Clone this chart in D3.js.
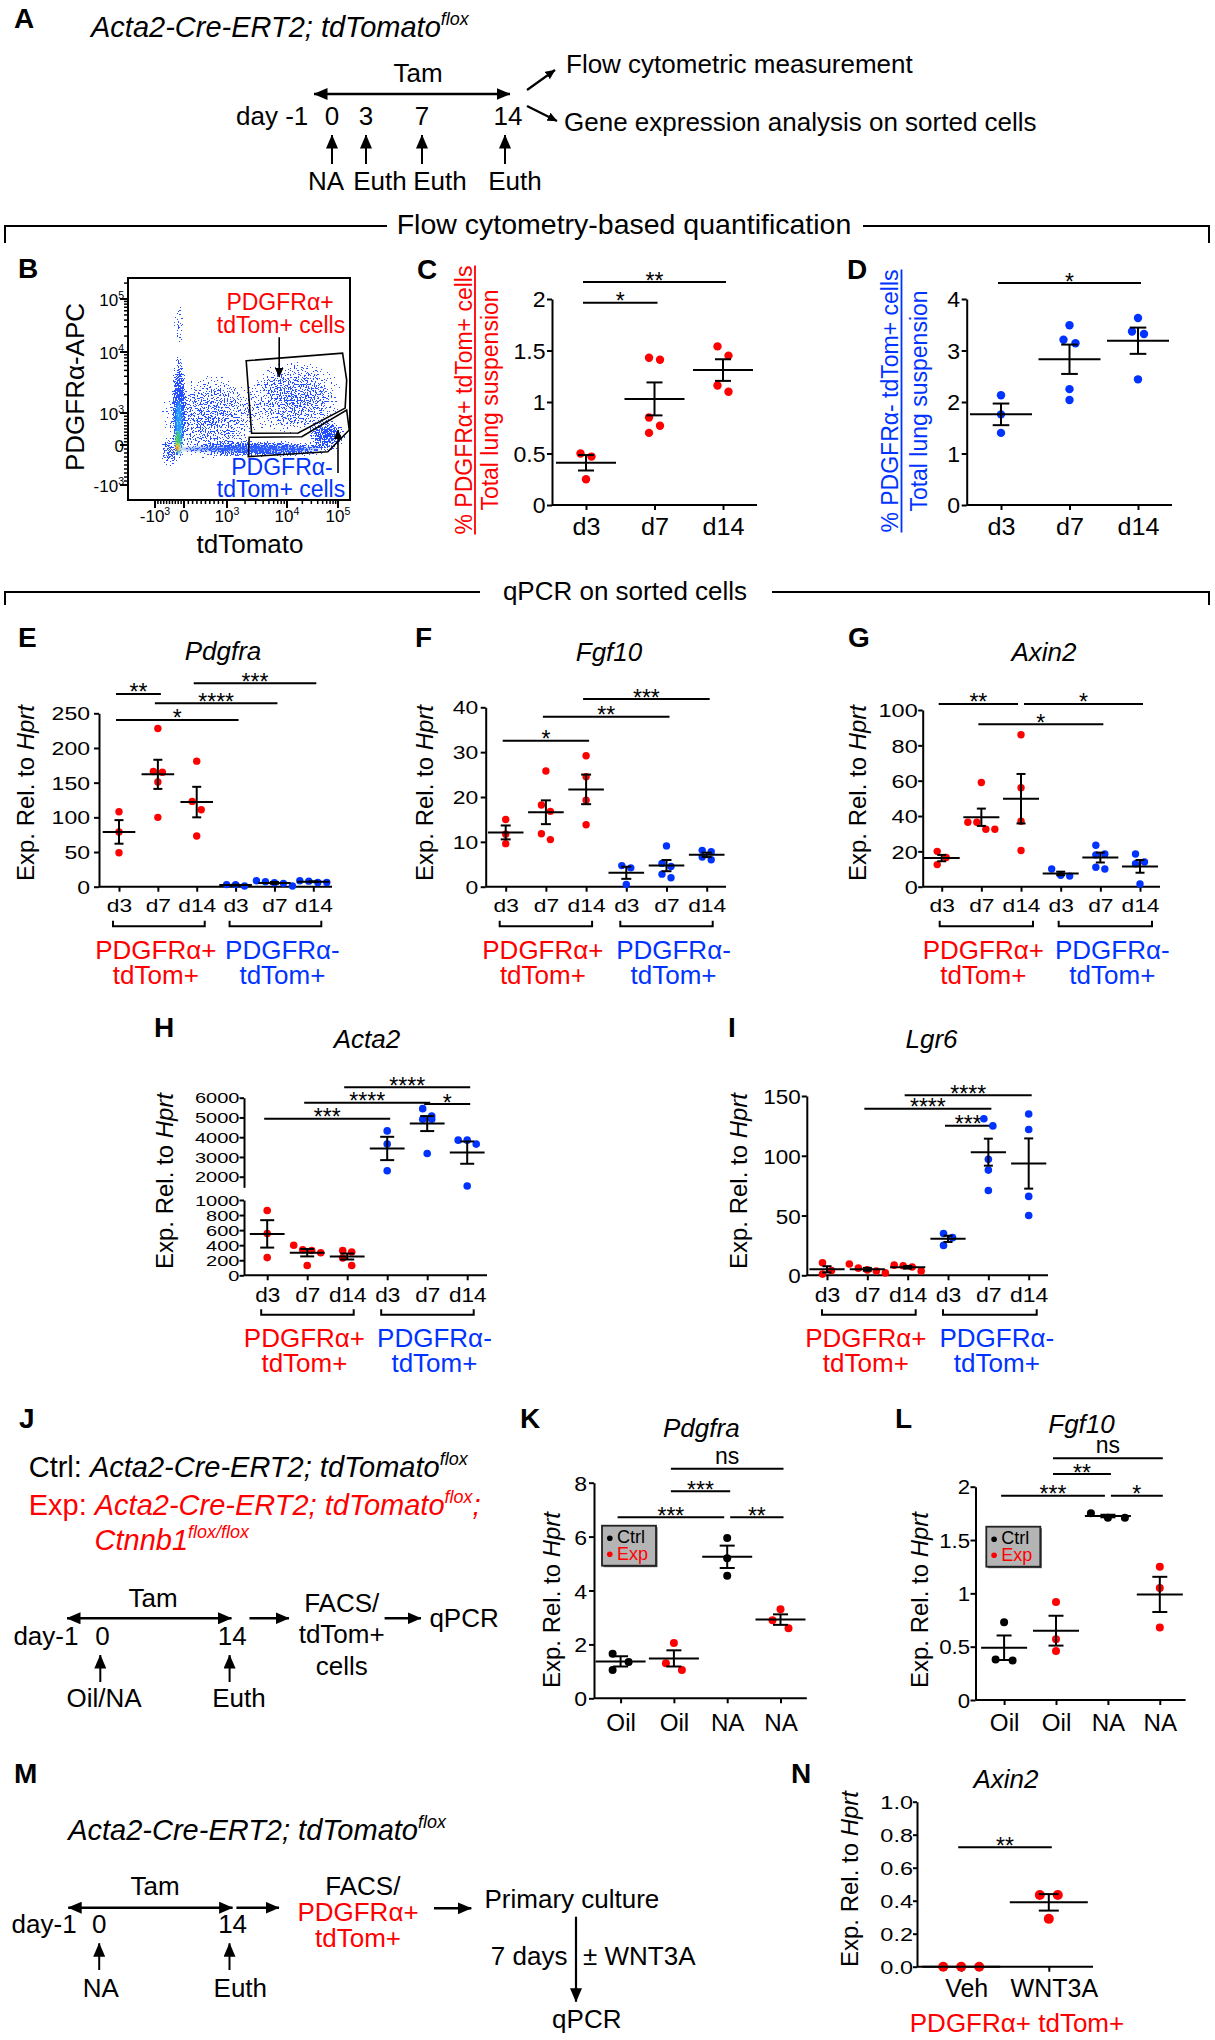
<!DOCTYPE html>
<html>
<head>
<meta charset="utf-8">
<script src="https://cdn.jsdelivr.net/npm/d3@7/dist/d3.min.js"></script>
<style>
html,body{margin:0;padding:0;background:#fff;}
svg{display:block;}
</style>
</head>
<body>
<svg id="fig" width="1215" height="2040" xmlns="http://www.w3.org/2000/svg"></svg>
<script>
// ======================= DATA =======================
const dayCats = ["d3", "d7", "d14"];
const sortedCats = ["d3", "d7", "d14", "d3", "d7", "d14"];
const groupNames = [["PDGFRα+", "tdTom+"], ["PDGFRα-", "tdTom+"]];
const treatCats = ["Oil", "Oil", "NA", "NA"];
const legendNames = ["Ctrl", "Exp"];
const cultureCats = ["Veh", "WNT3A"];

// B: flow cytometry (axis index units: -1=-10^3, 0=0, 1=10^3, 2=10^4, 3=10^5)
const flowTickIdx = [-1, 0, 1, 2, 3];
const flowTickLabels = [["-10", "3"], ["0", ""], ["10", "3"], ["10", "4"], ["10", "5"]];
const flowPopulations = [ // event-density regions [x0,x1,y0,y1,weight]
  [-0.45, 0.07, -0.5, 2.13, 1.0],
  [-0.14, 3.14, -0.33, 0.16, 1.0],
  [2.35, 3.2, -0.18, 0.84, 0.9],
  [1.22, 3.24, 0.16, 1.95, 0.66],
  [-1.1, 1.7, -0.55, 1.75, 0.62],
  [-0.41, 0.05, 2.04, 2.98, 0.4],
  [-0.9, -0.1, -0.6, 0.3, 0.75]
];
const flowCores = [ // high-density cores [x0,x1,y0,y1,colour,opacity]
  [-0.14, 2.65, -0.175, -0.025, "#3a6cff", 0.55],
  [-0.29, -0.06, -0.25, 1.2, "#28b8ff", 0.75],
  [-0.3, -0.12, -0.2, 0.45, "#3ccf4a", 0.85],
  [-0.28, -0.14, -0.15, 0.05, "#f0e400", 0.95],
  [-0.29, -0.2, -0.125, -0.03, "#ff2a00", 1]
];
const gatePos = [[1.32, 1.857], [3.09, 1.98], [3.17, 1.54], [3.14, 1.08], [2.22, 0.375], [1.41, 0.366]];
const gateNeg = [[1.37, 0.24], [2.29, 0.26], [3.17, 1.05], [3.22, 0.47], [2.8, -0.17], [1.355, -0.29]];

// C
const cTicks = [0, 0.5, 1, 1.5, 2];
const cValues = [[0.50, 0.47, 0.25], [1.41, 1.43, 0.85, 0.77, 0.70], [1.54, 1.45, 1.16, 1.10]];
const cMean = [0.41, 1.03, 1.31];
const cSem = [0.075, 0.16, 0.105];
const cSig = [[0, 1, 1.964, "*"], [0, 2, 2.165, "**"]];
// D
const dTicks = [0, 1, 2, 3, 4];
const dValues = [[2.13, 1.76, 1.40], [3.49, 3.21, 3.14, 2.25, 2.04], [3.63, 3.37, 3.32, 2.44]];
const dMean = [1.76, 2.83, 3.19];
const dSem = [0.21, 0.285, 0.255];
const dSig = [[0, 2, 4.31, "*"]];
// E Pdgfra
const eTicks = [0, 50, 100, 150, 200, 250];
const eValues = [[108, 79, 49], [228, 166, 165, 151, 100], [181, 123, 111, 73], [3, 1, 3], [8.6, 5.8, 1, 4.8, 7.2], [8, 6, 6, 8.6]];
const eMean = [79, 162, 122, 2.3, 5.5, 7.2];
const eSem = [17, 21, 22, 0.6, 1.3, 0.6];
const eSig = [[0, 1, 278, "**"], [0, 3, 240.5, "*"], [1, 4, 264.5, "****"], [2, 5, 293.4, "***"]];
// F Fgf10
const fTicks = [0, 10, 20, 30, 40];
const fValues = [[15, 11.7, 9.6], [25.8, 18.2, 16.8, 11.8, 10.5], [29.2, 24.5, 19.3, 13.8], [4.7, 4.2, 0.5], [9.1, 5.2, 4.5, 2.8, 2], [8.1, 7.8, 6.6, 6.0]];
const fMean = [12.1, 16.6, 21.7, 3.1, 4.7, 7.1];
const fSem = [1.55, 2.65, 3.3, 1.35, 1.25, 0.5];
const fSig = [[0, 2, 32.55, "*"], [1, 4, 37.9, "**"], [2, 5, 41.85, "***"]];
// G Axin2
const gTicks = [0, 20, 40, 60, 80, 100];
const gValues = [[20, 16.5, 12.5], [59, 36.5, 36.5, 32.5, 32.5], [86, 56, 37, 20.5], [10, 6, 6.5], [23.5, 18.5, 18, 11, 10], [18.5, 14, 13, 1.5]];
const gMean = [16.2, 39.3, 49.8, 7.5, 16.5, 11.5];
const gSem = [1.8, 4.9, 14, 1, 2.8, 3.6];
const gSig = [[0, 2, 103.4, "**"], [2, 5, 103.4, "*"], [1, 4, 91.9, "*"]];
// H Acta2 (broken axis)
const hTicksLow = [0, 200, 400, 600, 800, 1000];
const hTicksUp = [2000, 3000, 4000, 5000, 6000];
const hValues = [[860, 555, 235], [400, 340, 330, 300, 130], [330, 310, 230, 130], [4320, 3650, 2300], [5445, 5076, 4908, 4908, 3176], [3850, 3850, 3650, 1530]];
const hMean = [550, 300, 250, 3430, 4690, 3220];
const hSem = [182, 49, 40, 590, 380, 565];
const hSig = [[0, 3, 4937, "***"], [1, 4, 5747, "****"], [2, 5, 6527, "****"], [4, 5, 5681, "*"]];
// I Lgr6
const iTicks = [0, 50, 100, 150];
const iValues = [[10.5, 4, 1], [9.5, 6, 4.5, 3.5, 2], [8.5, 8, 7, 3.5], [35, 31.5, 25], [131, 125, 97, 88, 71], [135, 122, 66, 50]];
const iMean = [5, 5, 6.7, 30.5, 103, 93.5];
const iSem = [2.6, 1.2, 1.1, 2.6, 11.3, 21];
const iSig = [[2, 5, 150.6, "****"], [1, 4, 139.4, "****"], [3, 4, 125.2, "***"]];
// K Pdgfra (Ctrl / Exp)
const kTicks = [0, 2, 4, 6, 8];
const kValues = [[1.65, 1.35, 1.05], [2.05, 1.3, 1.05], [5.95, 5.2, 4.55], [3.3, 2.9, 2.6]];
const kMean = [1.37, 1.48, 5.25, 2.92];
const kSem = [0.19, 0.3, 0.415, 0.195];
const kSig = [[1, 3, 8.52, "ns"], [1, 2, 7.68, "***"], [0, 2, 6.72, "***"], [2, 3, 6.72, "**"]];
// L Fgf10 (Ctrl / Exp)
const lTicks = [0, 0.5, 1, 1.5, 2];
const lValues = [[0.73, 0.37, 0.38], [0.92, 0.57, 0.46], [1.75, 1.71, 1.71], [1.25, 1.05, 0.68]];
const lMean = [0.49, 0.65, 1.725, 0.99];
const lSem = [0.115, 0.14, 0.012, 0.165];
const lSig = [[1, 3, 2.266, "ns"], [1, 2, 2.119, "**"], [0, 2, 1.916, "***"], [2, 3, 1.916, "*"]];
// N Axin2 culture
const nTicks = [0, 0.2, 0.4, 0.6, 0.8, 1.0];
const nValues = [[0, 0, 0], [0.435, 0.435, 0.29]];
const nMean = [0, 0.39];
const nSem = [0, 0.05];
const nSig = [[0, 1, 0.724, "**"]];

// ======================= STYLE / HELPERS =======================
const svg = d3.select("#fig");
const FONT = "'Liberation Sans', Arial, Helvetica, sans-serif";
const RED = "#ff0000", BLUE = "#0033ff", BLK = "#000000";
const defs = svg.append("defs");

function T(g, x, y, segs, o = {}) {
  const size = o.size || 23;
  const t = g.append("text").attr("x", x).attr("y", y)
    .attr("font-family", FONT).attr("font-size", size)
    .attr("fill", o.fill || "#000").attr("text-anchor", o.anchor || "start");
  if (o.bold) t.attr("font-weight", "bold");
  if (o.italic) t.attr("font-style", "italic");
  let tr = "";
  if (o.rot) tr += `rotate(${o.rot},${x},${y}) `;
  if (o.sx) tr += `translate(${x},${y}) scale(${o.sx},1) translate(${-x},${-y})`;
  if (tr) t.attr("transform", tr);
  if (typeof segs === "string") segs = [{ t: segs }];
  let shift = 0;
  segs.forEach(s => {
    const ts = t.append("tspan").text(s.t);
    if (s.i) ts.attr("font-style", "italic");
    if (s.fill) ts.attr("fill", s.fill);
    const want = s.sup ? -size * 0.42 : 0;
    if (want !== shift) { ts.attr("dy", want - shift); shift = want; }
    if (s.sup) ts.attr("font-size", size * 0.62);
  });
  return t;
}
function L(g, x1, y1, x2, y2, o = {}) {
  return g.append("line").attr("x1", x1).attr("y1", y1).attr("x2", x2).attr("y2", y2)
    .attr("stroke", o.c || "#000").attr("stroke-width", o.w || 2)
    .attr("marker-end", o.end ? `url(#${o.end})` : null)
    .attr("marker-start", o.start ? `url(#${o.start})` : null);
}
function marker(id, len, wid) {
  defs.append("marker").attr("id", id).attr("viewBox", `0 0 ${len} ${wid}`)
    .attr("refX", len - 0.5).attr("refY", wid / 2).attr("markerWidth", len).attr("markerHeight", wid)
    .attr("markerUnits", "userSpaceOnUse").attr("orient", "auto-start-reverse")
    .append("path").attr("d", `M0,0L${len},${wid / 2}L0,${wid}Z`).attr("fill", "#000");
}
marker("ah", 14, 12);
marker("as", 10, 9);

function styleAxis(ga, size, sx) {
  ga.attr("font-family", null).attr("font-size", null).attr("color", "#000");
  ga.selectAll("path,line").attr("stroke", "#000").attr("stroke-width", 2);
  ga.selectAll("text").attr("font-family", FONT).attr("font-size", size).attr("fill", "#000");
  if (sx) ga.selectAll("text").each(function () {
    const t = d3.select(this);
    const x = +t.attr("x") || 0, y = +t.attr("y") || 0;
    t.attr("transform", `translate(${x},${y}) scale(${sx},1) translate(${-x},${-y})`);
  });
}
function dodge(ys, thr, s) {
  const idx = d3.range(ys.length).sort((a, b) => ys[a] - ys[b]);
  const off = new Array(ys.length).fill(0);
  let i = 0;
  while (i < idx.length) {
    let j = i;
    while (j + 1 < idx.length && ys[idx[j + 1]] - ys[idx[j]] < thr) j++;
    const cl = idx.slice(i, j + 1), k = cl.length;
    if (k > 1) {
      const span = ys[cl[k - 1]] - ys[cl[0]];
      if (span < thr) cl.forEach((c, m) => off[c] = (m - (k - 1) / 2) * s);
      else cl.forEach((c, m) => off[c] = (m % 2 ? 1 : -1) * s / 2);
    }
    i = j + 1;
  }
  return off;
}

function dotPanel(P) {
  const g = svg.append("g");
  const n = P.values.length;
  const x = d3.scalePoint().domain(d3.range(n)).range(P.catRange);
  const yf = P.y;
  P.yAxes.forEach(ax => {
    const a = d3.axisLeft(ax.scale).tickValues(ax.ticks).tickFormat(ax.fmt || (d => d))
      .tickSize(P.tick).tickPadding(P.pad).tickSizeOuter(0);
    const ga = g.append("g").attr("transform", `translate(${P.axisX},0)`).call(a);
    ga.selectAll(".tick text").attr("dy", "0.36em");
    styleAxis(ga, P.tickFont, P.tickSx);
  });
  L(g, P.axisX, P.yBottom, P.xEnd, P.yBottom);
  const xa = d3.axisBottom(x).tickSize(5).tickFormat(i => P.cats[i]);
  const gx = g.append("g").attr("transform", `translate(${P.catDx || 0},${P.yBottom})`).call(xa);
  gx.select(".domain").remove();
  gx.selectAll(".tick line").attr("transform", `translate(${-(P.catDx || 0)},0)`);
  gx.selectAll(".tick text").attr("y", P.catBase).attr("dy", null);
  styleAxis(gx, P.catFont, P.catSx);

  // significance bars
  P.sig.forEach((s, k) => {
    const [i, j, lev, lab] = s;
    let x1 = x(i) - 3, x2 = x(j) + 3;
    if (P.sig.some((o, q) => q !== k && o[2] === lev && o[1] === i)) x1 = x(i) + 3;
    if (P.sig.some((o, q) => q !== k && o[2] === lev && o[0] === j)) x2 = x(j) - 3;
    const yy = yf(lev);
    L(g, x1, yy, x2, yy);
    T(g, (x1 + x2) / 2, lab === "ns" ? yy - 5 : yy + 6.5, lab, { size: 23, anchor: "middle" });
  });
  // dots
  P.values.forEach((vals, i) => {
    const ys = vals.map(v => yf(v));
    const off = dodge(ys, P.r * 2 + 2, P.step);
    vals.forEach((v, k) => g.append("circle").attr("cx", x(i) + off[k]).attr("cy", ys[k])
      .attr("r", P.r).attr("fill", P.colors[i]));
  });
  // mean +/- SEM
  P.means.forEach((m, i) => {
    const cx = x(i), s = P.sems[i];
    L(g, cx - P.meanHalf, yf(m), cx + P.meanHalf, yf(m));
    if (s > 0) {
      L(g, cx, yf(m - s), cx, yf(m + s));
      L(g, cx - P.capHalf, yf(m + s), cx + P.capHalf, yf(m + s));
      L(g, cx - P.capHalf, yf(m - s), cx + P.capHalf, yf(m - s));
    }
  });
  if (P.title) T(g, P.title[0], P.title[1], P.titleText, { size: 26, anchor: "middle", italic: true });
  if (P.ytitle) T(g, P.ytitle[0], P.ytitle[1], [{ t: "Exp. Rel. to " }, { t: "Hprt", i: true }],
    { size: 24, anchor: "middle", rot: -90 });
  if (P.groups) {
    const bt = P.yBottom + 34, bb = P.yBottom + 39.5;
    [[0, 2, RED, -3], [3, 5, BLUE, 7]].forEach(([a, b, col, dx], gi) => {
      const x1 = x(a) + P.br[0], x2 = x(b) + P.br[1];
      g.append("path").attr("d", `M${x1},${bt}V${bb}H${x2}V${bt}`).attr("fill", "none")
        .attr("stroke", "#000").attr("stroke-width", 2);
      const cx = (x1 + x2) / 2 + dx;
      T(g, cx, P.yBottom + 72, groupNames[gi][0], { size: 26, anchor: "middle", fill: col });
      T(g, cx, P.yBottom + 97, groupNames[gi][1], { size: 26, anchor: "middle", fill: col });
    });
  }
  return { g, x };
}

function header(yLine, text, size, tx0, tx1, dropTo) {
  const g = svg.append("g");
  L(g, 5, yLine, tx0 - 8, yLine);
  L(g, tx1 + 10, yLine, 1209, yLine);
  L(g, 5, yLine - 1, 5, dropTo);
  L(g, 1209, yLine - 1, 1209, dropTo);
  T(g, (tx0 + tx1) / 2, yLine + 8, text, { size, anchor: "middle" });
}

// ======================= PANEL LETTERS =======================
[["A", 14, 28], ["B", 18, 278], ["C", 417, 279], ["D", 847, 279], ["E", 18, 647], ["F", 415, 647],
 ["G", 848, 647], ["H", 154, 1037], ["I", 728, 1037], ["J", 19, 1428], ["K", 520, 1428],
 ["L", 895, 1428], ["M", 14, 1783], ["N", 791, 1783]]
  .forEach(([l, x, y]) => T(svg, x, y, l, { size: 28, bold: true }));

// ======================= PANEL A =======================
{
  const g = svg.append("g");
  T(g, 91, 37, [{ t: "Acta2-Cre-ERT2; tdTomato" }, { t: "flox", sup: true }], { size: 29, italic: true });
  T(g, 418, 82, "Tam", { size: 26, anchor: "middle" });
  L(g, 314, 94, 510, 94, { start: "ah", end: "ah", w: 2.5 });
  T(g, 236, 125, "day -1", { size: 26 });
  [["0", 332], ["3", 366], ["7", 422], ["14", 508]].forEach(([t, x]) => T(g, x, 125, t, { size: 26, anchor: "middle" }));
  [332, 366, 422, 505].forEach(x => L(g, x, 164, x, 135, { end: "ah" }));
  [["NA", 326], ["Euth", 380], ["Euth", 440], ["Euth", 515]].forEach(([t, x]) => T(g, x, 190, t, { size: 26, anchor: "middle" }));
  L(g, 527, 90, 555, 70, { end: "as", w: 2.2 });
  L(g, 527, 106, 557, 121, { end: "as", w: 2.2 });
  T(g, 566, 73, "Flow cytometric measurement", { size: 26 });
  T(g, 564, 131, "Gene expression analysis on sorted cells", { size: 26 });
}
header(226, "Flow cytometry-based quantification", 28.5, 395, 853, 243);
header(592, "qPCR on sorted cells", 26, 488, 762, 605);

// ======================= PANEL B (flow) =======================
{
  const g = svg.append("g");
  const box = { l: 128, t: 278, r: 350, b: 500 };
  const fx = d3.scaleLinear().domain(flowTickIdx).range([155, 184, 227, 287, 338]);
  const fy = d3.scaleLinear().domain(flowTickIdx).range([485, 445, 413, 352, 299]);
  defs.append("clipPath").attr("id", "flowclip").append("rect")
    .attr("x", box.l).attr("y", box.t).attr("width", box.r - box.l).attr("height", box.b - box.t);
  const rg = defs.append("radialGradient").attr("id", "popgrad");
  rg.append("stop").attr("offset", 0).attr("stop-color", "#000").attr("stop-opacity", 1);
  rg.append("stop").attr("offset", 0.55).attr("stop-color", "#000").attr("stop-opacity", 0.75);
  rg.append("stop").attr("offset", 1).attr("stop-color", "#000").attr("stop-opacity", 0);
  const f = defs.append("filter").attr("id", "spk").attr("filterUnits", "userSpaceOnUse")
    .attr("x", box.l).attr("y", box.t).attr("width", box.r - box.l).attr("height", box.b - box.t)
    .attr("color-interpolation-filters", "sRGB");
  f.append("feTurbulence").attr("type", "fractalNoise").attr("baseFrequency", 0.7)
    .attr("numOctaves", 1).attr("seed", 5).attr("result", "n");
  f.append("feColorMatrix").attr("in", "n").attr("type", "matrix")
    .attr("values", "0 0 0 0 0  0 0 0 0 0  0 0 0 0 0  2.4 0 0 0 -0.7").attr("result", "na");
  f.append("feComposite").attr("in", "SourceAlpha").attr("in2", "na").attr("operator", "arithmetic")
    .attr("k1", 0).attr("k2", 1).attr("k3", 1).attr("k4", -0.66).attr("result", "s");
  f.append("feComponentTransfer").attr("in", "s").attr("result", "m")
    .append("feFuncA").attr("type", "discrete").attr("tableValues", "0 1");
  f.append("feFlood").attr("flood-color", "#2550ff").attr("result", "fl");
  f.append("feComposite").attr("in", "fl").attr("in2", "m").attr("operator", "in");
  const blur = defs.append("filter").attr("id", "soft").attr("x", "-50%").attr("y", "-50%")
    .attr("width", "200%").attr("height", "200%");
  blur.append("feGaussianBlur").attr("stdDeviation", 1.3);

  const dens = g.append("g").attr("clip-path", "url(#flowclip)");
  const sp = dens.append("g").attr("filter", "url(#spk)");
  flowPopulations.forEach(([x0, x1, y0, y1, w]) => {
    sp.append("ellipse").attr("cx", (fx(x0) + fx(x1)) / 2).attr("cy", (fy(y0) + fy(y1)) / 2)
      .attr("rx", Math.abs(fx(x1) - fx(x0)) / 2).attr("ry", Math.abs(fy(y1) - fy(y0)) / 2)
      .attr("fill", "url(#popgrad)").attr("fill-opacity", w);
  });
  const cg = dens.append("g").attr("filter", "url(#soft)");
  flowCores.forEach(([x0, x1, y0, y1, col, op]) => {
    cg.append("ellipse").attr("cx", (fx(x0) + fx(x1)) / 2).attr("cy", (fy(y0) + fy(y1)) / 2)
      .attr("rx", Math.abs(fx(x1) - fx(x0)) / 2).attr("ry", Math.abs(fy(y1) - fy(y0)) / 2)
      .attr("fill", col).attr("fill-opacity", op);
  });
  g.append("rect").attr("x", box.l).attr("y", box.t).attr("width", box.r - box.l).attr("height", box.b - box.t)
    .attr("fill", "none").attr("stroke", "#000").attr("stroke-width", 2);
  const minor = [];
  for (let k = -9; k <= 9; k++) if (k % 10) minor.push(k / 10);
  [1, 2].forEach(d => [2, 3, 4, 5, 6, 7, 8, 9].forEach(m => minor.push(d + Math.log10(m))));
  flowTickIdx.forEach(v => { L(g, fx(v), box.b, fx(v), box.b + 8); L(g, box.l, fy(v), box.l - 8, fy(v)); });
  minor.forEach(v => {
    if (fx(v) > box.l && fx(v) < box.r) L(g, fx(v), box.b, fx(v), box.b + 4, { w: 1.5 });
    L(g, box.l, fy(v), box.l - 4, fy(v), { w: 1.5 });
  });
  L(g, box.l, fy(3.3), box.l - 4, fy(3.3), { w: 1.5 });
  flowTickIdx.forEach((v, i) => {
    const [b, e] = flowTickLabels[i];
    T(g, fx(v), 522, e ? [{ t: b }, { t: e, sup: true }] : b, { size: 17, anchor: "middle" });
    T(g, 124, fy(v) + 7, e ? [{ t: b }, { t: e, sup: true }] : b, { size: 17, anchor: "end" });
  });
  [gatePos, gateNeg].forEach(gt => g.append("polygon")
    .attr("points", gt.map(([a, b]) => `${fx(a)},${fy(b)}`).join(" "))
    .attr("fill", "none").attr("stroke", "#000").attr("stroke-width", 1.6));
  L(g, fx(1.87), fy(2.28), fx(1.87), fy(1.59), { end: "as", w: 1.6 });
  L(g, fx(3.0), fy(-0.7), fx(3.0), fy(0.47), { end: "as", w: 1.6 });
  T(g, 280, 310, "PDGFRα+", { size: 23, anchor: "middle", fill: RED });
  T(g, 281, 333, "tdTom+ cells", { size: 23, anchor: "middle", fill: RED });
  T(g, 282, 475, "PDGFRα-", { size: 23, anchor: "middle", fill: BLUE });
  T(g, 281, 497, "tdTom+ cells", { size: 23, anchor: "middle", fill: BLUE });
  T(g, 250, 553, "tdTomato", { size: 26, anchor: "middle" });
  T(g, 83.5, 387, "PDGFRα-APC", { size: 26, anchor: "middle", rot: -90 });
}

// ======================= PANELS C & D =======================
function twoLineTitle(g, x1, x2, cy, l1, col) {
  const t = T(g, x1, cy, l1, { size: 23, anchor: "middle", rot: -90, fill: col });
  const len = t.node().getComputedTextLength();
  L(g, x1 + 3.5, cy - len / 2, x1 + 3.5, cy + len / 2, { c: col, w: 1.8 });
  T(g, x2, cy, "Total lung suspension", { size: 23, anchor: "middle", rot: -90, fill: col });
}
{
  const y = d3.scaleLinear().domain([0, 2]).range([505, 299]);
  const p = dotPanel({
    values: cValues, means: cMean, sems: cSem, sig: cSig, cats: dayCats, colors: [RED, RED, RED],
    y, yAxes: [{ scale: y, ticks: cTicks }], axisX: 552, xEnd: 757, yBottom: 505, catRange: [586, 723],
    tick: 5, pad: 1.5, tickFont: 22, tickSx: 1.05, catFont: 24, catSx: 1.05, catBase: 30,
    r: 4.2, step: 11, meanHalf: 30, capHalf: 8
  });
  twoLineTitle(p.g, 471.5, 498, 400, "% PDGFRα+ tdTom+ cells", RED);
}
{
  const y = d3.scaleLinear().domain([0, 4]).range([505, 299]);
  const p = dotPanel({
    values: dValues, means: dMean, sems: dSem, sig: dSig, cats: dayCats, colors: [BLUE, BLUE, BLUE],
    y, yAxes: [{ scale: y, ticks: dTicks }], axisX: 966.7, xEnd: 1172, yBottom: 505, catRange: [1001, 1138],
    tick: 5, pad: 1.5, tickFont: 22, tickSx: 1.05, catFont: 24, catSx: 1.05, catBase: 30,
    r: 4.2, step: 12, meanHalf: 31, capHalf: 8.3
  });
  twoLineTitle(p.g, 898, 926.5, 401, "% PDGFRα- tdTom+ cells", BLUE);
}

// ======================= PANELS E, F, G =======================
const sixColors = [RED, RED, RED, BLUE, BLUE, BLUE];
{
  const y = d3.scaleLinear().domain([0, 250]).range([886.7, 713.3]);
  dotPanel({
    values: eValues, means: eMean, sems: eSem, sig: eSig, cats: sortedCats, colors: sixColors,
    y, yAxes: [{ scale: y, ticks: eTicks }], axisX: 99, xEnd: 332, yBottom: 886.7, catRange: [119, 313.3],
    tick: 5, pad: 4, tickFont: 18, tickSx: 1.28, catFont: 19, catSx: 1.2, catBase: 25,
    r: 3.7, step: 9, meanHalf: 16.3, capHalf: 4.5, groups: true, br: [-6, 8],
    title: [223, 660], titleText: "Pdgfra", ytitle: [33.5, 793]
  });
}
{
  const y = d3.scaleLinear().domain([0, 40]).range([886.7, 707.3]);
  dotPanel({
    values: fValues, means: fMean, sems: fSem, sig: fSig, cats: sortedCats, colors: sixColors,
    y, yAxes: [{ scale: y, ticks: fTicks }], axisX: 485.7, xEnd: 726, yBottom: 886.7, catRange: [505.7, 706.7],
    tick: 5, pad: 2.4, tickFont: 18.5, tickSx: 1.24, catFont: 19, catSx: 1.2, catBase: 25,
    r: 3.7, step: 9, meanHalf: 17.8, capHalf: 5, groups: true, br: [-6, 6],
    title: [609, 660.7], titleText: "Fgf10", ytitle: [433, 793]
  });
}
{
  const y = d3.scaleLinear().domain([0, 100]).range([886.7, 710]);
  dotPanel({
    values: gValues, means: gMean, sems: gSem, sig: gSig, cats: sortedCats, colors: sixColors,
    y, yAxes: [{ scale: y, ticks: gTicks }], axisX: 922.7, xEnd: 1160, yBottom: 886.7, catRange: [941.7, 1140],
    tick: 4.5, pad: 0.5, tickFont: 18.5, tickSx: 1.27, catFont: 19, catSx: 1.2, catBase: 25,
    r: 3.7, step: 9, meanHalf: 18, capHalf: 4.5, groups: true, br: [-2, 12],
    title: [1044, 660.7], titleText: "Axin2", ytitle: [866, 793]
  });
}

// ======================= PANELS H, I =======================
{
  const hLow = d3.scaleLinear().domain([0, 1000]).range([1275.3, 1200]);
  const hUp = d3.scaleLinear().domain([2000, 6000]).range([1176.7, 1097.7]);
  const hUpAxis = hUp.copy().domain([1460, 6000]).range([hUp(1460), hUp(6000)]);
  const y = v => v <= 1000 ? hLow(v) : hUp(v);
  dotPanel({
    values: hValues, means: hMean, sems: hSem, sig: hSig, cats: sortedCats, colors: sixColors,
    y, yAxes: [{ scale: hLow, ticks: hTicksLow }, { scale: hUpAxis, ticks: hTicksUp }],
    axisX: 244, xEnd: 487, yBottom: 1275.3, catRange: [267.2, 467.2],
    tick: 4.5, pad: 0, tickFont: 14.5, tickSx: 1.38, catFont: 20.5, catSx: 1.1, catBase: 26.4,
    r: 3.8, step: 9, meanHalf: 17.4, capHalf: 7, groups: true, br: [-6, 6.5],
    title: [367, 1048], titleText: "Acta2", ytitle: [173, 1181]
  });
}
{
  const y = d3.scaleLinear().domain([0, 150]).range([1275.3, 1096]);
  dotPanel({
    values: iValues, means: iMean, sems: iSem, sig: iSig, cats: sortedCats, colors: sixColors,
    y, yAxes: [{ scale: y, ticks: iTicks }], axisX: 806.8, xEnd: 1048, yBottom: 1275.3, catRange: [827, 1028.7],
    tick: 5, pad: 1, tickFont: 21, tickSx: 1.07, catFont: 20, catSx: 1.15, catBase: 26.4,
    r: 3.8, step: 9, meanHalf: 17.6, capHalf: 4.5, groups: true, br: [-5, 8],
    title: [931.5, 1048], titleText: "Lgr6", ytitle: [747, 1181]
  });
}

// ======================= PANEL J =======================
{
  const g = svg.append("g");
  T(g, 28.7, 1476.7, [{ t: "Ctrl: " }, { t: "Acta2-Cre-ERT2; tdTomato", i: true }, { t: "flox", sup: true, i: true }], { size: 29 });
  T(g, 28.7, 1515, [{ t: "Exp: " }, { t: "Acta2-Cre-ERT2; tdTomato", i: true }, { t: "flox", sup: true, i: true }, { t: ";", i: true }], { size: 29, fill: RED });
  T(g, 94.5, 1550, [{ t: "Ctnnb1" }, { t: "flox/flox", sup: true }], { size: 29, fill: RED, italic: true });
  T(g, 153, 1606.7, "Tam", { size: 26, anchor: "middle" });
  L(g, 67, 1618.3, 231.5, 1618.3, { start: "ah", end: "ah", w: 2.5 });
  L(g, 249.5, 1618.3, 289, 1618.3, { end: "ah", w: 2.5 });
  T(g, 341.7, 1611.7, "FACS/", { size: 26, anchor: "middle" });
  T(g, 341.7, 1643.3, "tdTom+", { size: 26, anchor: "middle" });
  T(g, 341.7, 1675, "cells", { size: 26, anchor: "middle" });
  L(g, 384.6, 1618.3, 421, 1618.3, { end: "ah", w: 2.5 });
  T(g, 429.4, 1627, "qPCR", { size: 26 });
  T(g, 13.4, 1645, "day-1", { size: 26 });
  T(g, 102.6, 1645, "0", { size: 26, anchor: "middle" });
  T(g, 232.3, 1645, "14", { size: 26, anchor: "middle" });
  [100.3, 229.6].forEach(x => L(g, x, 1682, x, 1655, { end: "ah" }));
  T(g, 104, 1706.7, "Oil/NA", { size: 26, anchor: "middle" });
  T(g, 239, 1706.7, "Euth", { size: 26, anchor: "middle" });
}

// ======================= PANELS K, L =======================
function legend(g, x0, y0) {
  g.append("rect").attr("x", x0 + 1.5).attr("y", y0 + 1.5).attr("width", 54).attr("height", 40).attr("fill", "#555");
  g.append("rect").attr("x", x0).attr("y", y0).attr("width", 54).attr("height", 40)
    .attr("fill", "#b4b4b4").attr("stroke", "#222").attr("stroke-width", 1.8);
  [[BLK, 0], [RED, 1]].forEach(([c, i]) => {
    g.append("circle").attr("cx", x0 + 7.8).attr("cy", y0 + 12.6 + i * 16).attr("r", 2.8).attr("fill", c);
    T(g, x0 + 15, y0 + 17.6 + i * 16.7, legendNames[i], { size: 18, fill: c });
  });
}
const treatColors = [BLK, RED, BLK, RED];
{
  const y = d3.scaleLinear().domain([0, 8]).range([1698.3, 1482.7]);
  const p = dotPanel({
    values: kValues, means: kMean, sems: kSem, sig: kSig, cats: treatCats, colors: treatColors,
    y, yAxes: [{ scale: y, ticks: kTicks }], axisX: 594, xEnd: 806.8, yBottom: 1698.3, catRange: [620.6, 780.5],
    tick: 5, pad: 2, tickFont: 21, tickSx: 1.1, catFont: 23, catSx: 1.05, catBase: 33,
    r: 4, step: 16, meanHalf: 25, capHalf: 7.5,
    title: [701.3, 1436.7], titleText: "Pdgfra", ytitle: [560, 1600]
  });
  legend(p.g, 602, 1525.7);
}
{
  const y = d3.scaleLinear().domain([0, 2]).range([1700, 1486.7]);
  const p = dotPanel({
    values: lValues, means: lMean, sems: lSem, sig: lSig, cats: treatCats, colors: treatColors,
    y, yAxes: [{ scale: y, ticks: lTicks }], axisX: 975.5, xEnd: 1185.6, yBottom: 1700, catRange: [1004.1, 1159.8],
    tick: 5, pad: 0.5, tickFont: 19.5, tickSx: 1.14, catFont: 23, catSx: 1.05, catBase: 31,
    r: 4, step: 17, meanHalf: 23, capHalf: 7.5,
    title: [1081.5, 1433.3], titleText: "Fgf10", ytitle: [928, 1600]
  });
  legend(p.g, 986.3, 1526.7);
}

// ======================= PANEL M =======================
{
  const g = svg.append("g");
  T(g, 68.2, 1840, [{ t: "Acta2-Cre-ERT2; tdTomato" }, { t: "flox", sup: true }], { size: 29, italic: true });
  T(g, 155, 1895, "Tam", { size: 26, anchor: "middle" });
  L(g, 68.2, 1907.7, 232.6, 1907.7, { start: "ah", end: "ah", w: 2.5 });
  L(g, 236.4, 1907.7, 279, 1907.7, { end: "ah", w: 2.5 });
  T(g, 11.6, 1933.3, "day-1", { size: 26 });
  T(g, 99.2, 1933.3, "0", { size: 26, anchor: "middle" });
  T(g, 232.6, 1933.3, "14", { size: 26, anchor: "middle" });
  [99.2, 229.5].forEach(x => L(g, x, 1970, x, 1943.3, { end: "ah" }));
  T(g, 100.8, 1996.7, "NA", { size: 26, anchor: "middle" });
  T(g, 240.3, 1996.7, "Euth", { size: 26, anchor: "middle" });
  T(g, 362.8, 1895, "FACS/", { size: 26, anchor: "middle" });
  T(g, 358, 1921, "PDGFRα+", { size: 26, anchor: "middle", fill: RED });
  T(g, 358, 1947, "tdTom+", { size: 26, anchor: "middle", fill: RED });
  L(g, 434, 1908.3, 471.3, 1908.3, { end: "ah", w: 2.5 });
  T(g, 484.5, 1908.3, "Primary culture", { size: 26 });
  L(g, 576, 1916.7, 576, 2001.7, { end: "ah", w: 2.2 });
  T(g, 567.4, 1965, "7 days", { size: 26, anchor: "end" });
  T(g, 583, 1965, "± WNT3A", { size: 26 });
  T(g, 586.8, 2028.3, "qPCR", { size: 26, anchor: "middle" });
}

// ======================= PANEL N =======================
{
  const y = d3.scaleLinear().domain([0, 1]).range([1966.7, 1801.7]);
  const p = dotPanel({
    values: nValues, means: nMean, sems: nSem, sig: nSig, cats: cultureCats, colors: [RED, RED],
    y, yAxes: [{ scale: y, ticks: nTicks, fmt: d3.format(".1f") }], axisX: 917, xEnd: 1093, yBottom: 1966.7,
    catRange: [961.2, 1048.8], catDx: 5,
    tick: 4, pad: 0, tickFont: 18.5, tickSx: 1.27, catFont: 25, catSx: 1, catBase: 30,
    r: 5, step: 18, meanHalf: 39, capHalf: 10,
    title: [1006, 1788.3], titleText: "Axin2", ytitle: [858, 1879]
  });
  T(p.g, 1017, 2031.7, "PDGFRα+ tdTom+", { size: 26, anchor: "middle", fill: RED });
}
</script>
</body>
</html>
